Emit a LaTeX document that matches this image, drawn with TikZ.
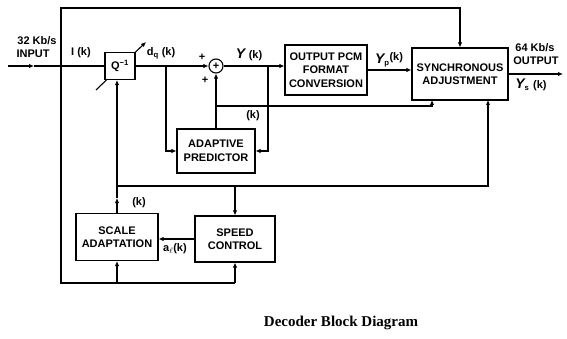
\documentclass[tikz,border=0pt]{standalone}
\usepackage{fontspec}
\setmainfont{Liberation Serif}
\setsansfont{Liberation Sans}
\usetikzlibrary{arrows.meta}

\newcommand{\blockfont}{\sffamily\bfseries\fontsize{11}{13.5}\selectfont}
\newcommand{\bigY}{{\fontsize{14}{14}\selectfont\itshape Y}}

\begin{document}
\begin{tikzpicture}[x=1pt, y=-1pt, line width=1.1pt,
    block/.style={draw, fill=white, align=center, inner sep=0pt, font=\blockfont},
    lbl/.style={font=\blockfont, inner sep=0pt},
    >={Latex[length=5pt,width=4.5pt]}]
    \useasboundingbox (0,0) rectangle (567,339);

    % variable gain mark across Q^-1
    \coordinate (qd1) at (96,90);
    \coordinate (qd2) at (146,42);
    \draw[->] (qd1) -- (qd2);

    % blocks
    \node[block, minimum width=30pt, minimum height=27pt] (q) at (120,66) {Q\textsuperscript{−1}};
    \node[draw, circle, minimum size=14pt, inner sep=0pt, font=\blockfont] (sum) at (216,66) {+};
    \node[block, minimum width=82pt, minimum height=50pt] (pcm) at (326,70) {OUTPUT PCM\\FORMAT\\CONVERSION};
    \node[block, minimum width=96pt, minimum height=52pt] (sync) at (460,74) {SYNCHRONOUS\\ADJUSTMENT};
    \node[block, minimum width=78pt, minimum height=44pt] (pred) at (216,151) {ADAPTIVE\\PREDICTOR};
    \node[block, minimum width=82pt, minimum height=47pt] (scale) at (117,237) {SCALE\\ADAPTATION};
    \node[block, minimum width=80pt, minimum height=46pt] (speed) at (235,239) {SPEED\\CONTROL};

    % points on the wires
    \coordinate (in) at (8,66);
    \coordinate (inarr) at (34,66);
    \coordinate (jin) at (61,66);
    \coordinate (top) at (0,8);
    \coordinate (bot) at (0,283);
    \coordinate (jdq) at (166,66);
    \coordinate (jy) at (268,66);
    \coordinate (jse) at (216,106);
    \coordinate (syncin1) at (432,100);
    \coordinate (syncin2) at (488,100);
    \coordinate (jyk) at (117,186);
    \coordinate (ykarr) at (117,198);
    \coordinate (out) at (563,74);

    % connectors
    \draw[->] (in) -- (inarr);
    \draw (inarr) -- (q);
    \draw[->] (q) -- (sum);
    \draw[->] (jdq) |- (pred.west);
    \draw[->] (sum.east) -- (sum.east -| pcm.west);
    \draw[->] (jy) |- (pred.east);
    \draw[->] (pred.north) -- (sum.south);
    \draw[->] (jse) -| (syncin1);
    \draw[->] (pcm.east) -- (pcm.east -| sync.west);
    \draw[->] (sync.east |- out) -- (out);
    \draw[->] (jin) -- (jin |- top) -| (sync.north);
    \draw (jin) -- (jin |- bot) -- (speed.south |- bot);
    \draw[->] (scale.south |- bot) -- (scale.south);
    \draw[->] (speed.south |- bot) -- (speed.south);
    \draw[->] (scale.north) -- (ykarr);
    \draw[->] (ykarr) -- (ykarr |- q.south);
    \draw[->] (jyk) -| (syncin2);
    \draw[->] (speed.north |- jyk) -- (speed.north);
    \draw[->] (speed.west) -- (speed.west -| scale.east);

    % labels
    \node[lbl] (inrate) at (37,41) {32 Kb/s};
    \node[lbl] (intext) at (33,54) {INPUT};
    \node[lbl] (ik) at (81,53) {I (k)};
    \node[lbl] (dq) at (161,53) {d\textsubscript{q} (k)};
    \node[lbl] (plusa) at (202,57) {+};
    \node[lbl] (plusb) at (205,80) {+};
    \node[lbl] (yk) at (249,55) {\bigY\,\,(k)};
    \node[lbl] (yp) at (389,60) {\bigY\textsubscript{p}\raisebox{3pt}{(k)}};
    \node[lbl] (se) at (253,116) {(k)};
    \node[lbl] (outrate) at (535,48) {64 Kb/s};
    \node[lbl] (outtext) at (536,61) {OUTPUT};
    \node[lbl] (ys) at (531,85) {\bigY\textsubscript{s}\,\,(k)};
    \node[lbl] (yk2) at (139,203) {(k)};
    \node[lbl] (al) at (175,249) {a\textsubscript{$\ell$}(k)};

    \node[font=\bfseries\fontsize{15}{18}\selectfont] (caption) at (341,323) {Decoder Block Diagram};
\end{tikzpicture}
\end{document}
